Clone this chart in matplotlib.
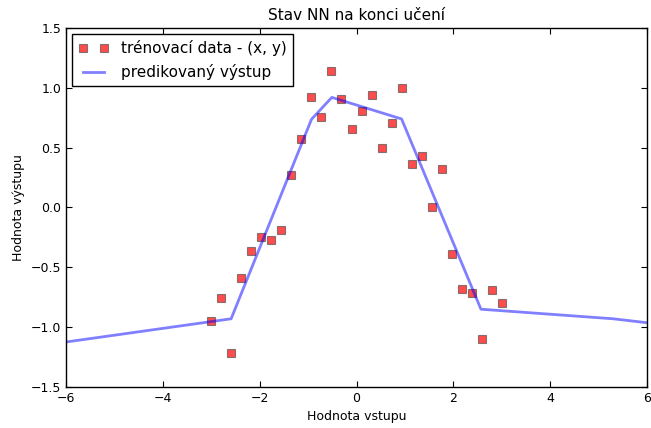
import matplotlib
matplotlib.use('Agg')
import matplotlib.pyplot as plt
import numpy as np

# training data (30 points from -3 to 3)
x_train = np.linspace(-3, 3, 30)
y_train = [-0.95, -0.76, -1.22, -0.59, -0.36, -0.25, -0.27, -0.185, 0.27, 0.57,
           0.92, 0.76, 1.14, 0.91, 0.656, 0.806, 0.94, 0.495, 0.71, 1.0,
           0.36, 0.43, 0.0, 0.325, -0.39, -0.68, -0.717, -1.10, -0.69, -0.80]

# predicted output of the network (piecewise)
x_pred = [-6.0, -2.59, -0.93, -0.51, 0.93, 2.57, 5.3, 6.0]
y_pred = [-1.124, -0.93, 0.737, 0.92, 0.74, -0.85, -0.93, -0.963]

fig = plt.figure(figsize=(6.51, 4.28), dpi=100)
ax = fig.add_axes([0.1014, 0.0958, 0.8925, 0.8388])

ax.plot(x_train, y_train, 's', color='red', alpha=0.7, markersize=5.2,
        markeredgecolor='#555555', markeredgewidth=0.8, label='trénovací data - (x, y)')
ax.plot(x_pred, y_pred, '-', color='blue', alpha=0.5, linewidth=2, label='predikovaný výstup')

ax.set_xlim(-6, 6)
ax.set_ylim(-1.5, 1.5)
ax.set_xticks(np.arange(-6, 7, 2))
ax.set_yticks(np.arange(-1.5, 1.51, 0.5))
ax.tick_params(direction='in', top=True, right=True, labelsize=9, length=4)
for s in ax.spines.values():
    s.set_linewidth(1)

ax.set_title('Stav NN na konci učení', fontsize=11)
ax.set_xlabel('Hodnota vstupu', fontsize=9)
ax.set_ylabel('Hodnota výstupu', fontsize=9)

leg = ax.legend(loc='upper left', numpoints=2, fontsize=11, fancybox=False,
                edgecolor='black', framealpha=1, borderaxespad=0.4)
leg.get_frame().set_linewidth(1)

fig.savefig('out.png', dpi=100)
